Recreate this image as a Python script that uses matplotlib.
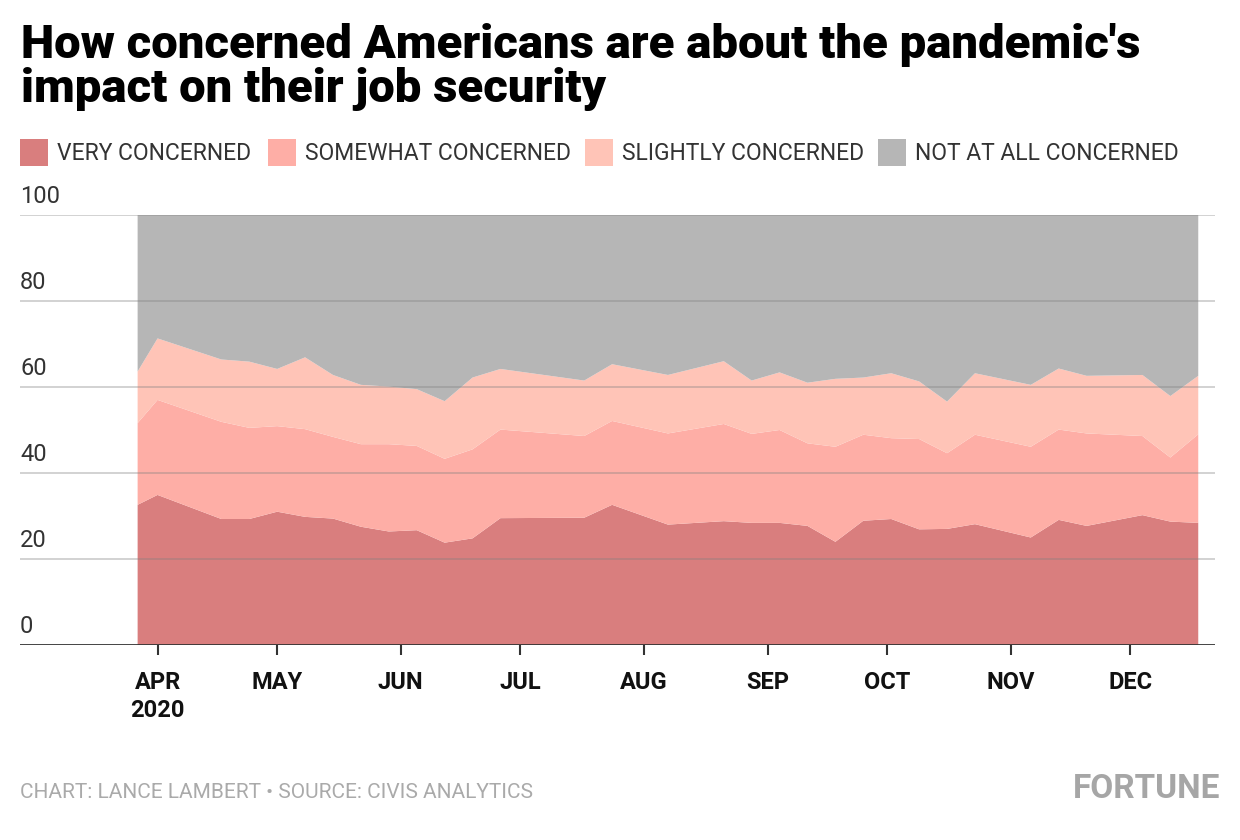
import matplotlib
matplotlib.use("Agg")
import matplotlib.pyplot as plt
import matplotlib.dates as mdates
from matplotlib.patches import Rectangle
from matplotlib import transforms
import pandas as pd

# survey dates (2020) and share of respondents, in percent
dates = ["2020-03-27", "2020-04-01", "2020-04-17", "2020-04-24", "2020-05-01",
         "2020-05-08", "2020-05-15", "2020-05-22", "2020-05-29", "2020-06-05",
         "2020-06-12", "2020-06-19", "2020-06-26", "2020-07-17", "2020-07-24",
         "2020-08-07", "2020-08-21", "2020-08-28", "2020-09-04", "2020-09-11",
         "2020-09-18", "2020-09-25", "2020-10-02", "2020-10-09", "2020-10-16",
         "2020-10-23", "2020-11-06", "2020-11-13", "2020-11-20", "2020-12-04",
         "2020-12-11", "2020-12-18"]
very = [32.6, 34.9, 29.3, 29.3, 31.0, 29.8, 29.4, 27.5, 26.4, 26.7,
        23.8, 24.8, 29.5, 29.6, 32.6, 28.0, 28.8, 28.4, 28.4, 27.7,
        24.0, 28.9, 29.3, 26.9, 27.0, 28.1, 25.0, 29.1, 27.7, 30.2,
        28.7, 28.4]
somewhat = [19.0, 22.1, 22.6, 21.2, 19.9, 20.4, 19.0, 19.2, 20.3, 19.6,
            19.5, 20.7, 20.6, 19.0, 19.5, 21.2, 22.6, 20.7, 21.6, 19.2,
            22.1, 20.0, 18.8, 21.0, 17.6, 20.8, 21.1, 21.0, 21.5, 18.4,
            14.9, 20.6]
slightly = [12.0, 14.3, 14.5, 15.4, 13.3, 16.7, 14.4, 13.8, 13.4, 13.2,
            13.4, 16.7, 14.1, 12.9, 13.2, 13.6, 14.6, 12.4, 13.4, 14.1,
            15.8, 13.3, 15.1, 13.4, 12.0, 14.3, 14.4, 14.2, 13.4, 14.2,
            14.3, 13.6]
not_at_all = [36.4, 28.7, 33.6, 34.1, 35.8, 33.1, 37.2, 39.5, 39.9, 40.5,
              43.3, 37.8, 35.8, 38.5, 34.7, 37.2, 34.0, 38.5, 36.6, 39.0,
              38.1, 37.8, 36.8, 38.7, 43.4, 36.8, 39.5, 35.7, 37.4, 37.2,
              42.1, 37.4]

labels = ["VERY CONCERNED", "SOMEWHAT CONCERNED", "SLIGHTLY CONCERNED", "NOT AT ALL CONCERNED"]
colors = ["#d97e7e", "#feaea6", "#ffc4b7", "#b6b6b6"]

month_ticks = ["2020-04-01", "2020-05-01", "2020-06-01", "2020-07-01", "2020-08-01",
               "2020-09-01", "2020-10-01", "2020-11-01", "2020-12-01"]
month_labels = ["APR\n2020", "MAY", "JUN", "JUL", "AUG", "SEP", "OCT", "NOV", "DEC"]
y_ticks = [0, 20, 40, 60, 80, 100]

NARROW = ["Roboto", "DejaVu Sans"]
HEAVY = ["Roboto", "Lato", "DejaVu Sans"]

x = mdates.date2num(pd.to_datetime(dates))

fig = plt.figure(figsize=(12.4, 8.4), dpi=100)
ax = fig.add_axes([20 / 1240, 195 / 840, 1195 / 1240, 430 / 840])

ax.stackplot(x, very, somewhat, slightly, not_at_all, colors=colors, linewidth=0, zorder=1)

apr1 = mdates.date2num(pd.Timestamp("2020-04-01"))
dec1 = mdates.date2num(pd.Timestamp("2020-12-01"))
ax.set_xlim(apr1 - 34.5, dec1 + 21.2)
ax.set_ylim(0, 100)

# gridlines sit on top of the areas
for v in y_ticks[1:]:
    ax.axhline(v, color="#808080", alpha=0.38, lw=1.3, zorder=3)
ax.axhline(0, color="#333333", lw=2, zorder=4)

offset = transforms.offset_copy(ax.get_yaxis_transform(), fig=fig, x=0, y=7, units="dots")
for v in y_ticks:
    ax.text(0, v, str(v), transform=offset, ha="left", va="bottom",
            fontsize=17, color="#333333", family=NARROW)

ax.set_yticks([])
ax.set_xticks(mdates.date2num(pd.to_datetime(month_ticks)))
ax.set_xticklabels(month_labels, family=NARROW, fontweight="bold", fontsize=17,
                   color="#111111", linespacing=1.25)
ax.tick_params(axis="x", length=7, width=1.5, color="#333333", pad=12)
for s in ax.spines.values():
    s.set_visible(False)

# title
fig.text(21 / 1240, 1 - 23 / 840,
         "How concerned Americans are about the pandemic's\nimpact on their job security",
         ha="left", va="top", fontsize=34, fontweight="black", family=HEAVY,
         color="#000000", linespacing=0.99)

# legend
leg_x = [20, 268, 585, 878]
for lx, lab, col in zip(leg_x, labels, colors):
    fig.patches.append(Rectangle((lx / 1240, 1 - 166 / 840), 28 / 1240, 27 / 840,
                                 transform=fig.transFigure, facecolor=col, edgecolor="none"))
    fig.text((lx + 37) / 1240, 1 - 153 / 840, lab, ha="left", va="center",
             fontsize=16.5, color="#333333", family=NARROW)

# footer
fig.text(20 / 1240, 1 - 792 / 840, "CHART: LANCE LAMBERT \u2022 SOURCE: CIVIS ANALYTICS",
         ha="left", va="center", fontsize=15, color="#aaaaaa", family=NARROW)
fig.text(1220 / 1240, 1 - 789 / 840, "FORTUNE", ha="right", va="center",
         fontsize=24, fontweight="bold", color="#a6a6a6", family=NARROW)

fig.savefig("out.png", dpi=100)
